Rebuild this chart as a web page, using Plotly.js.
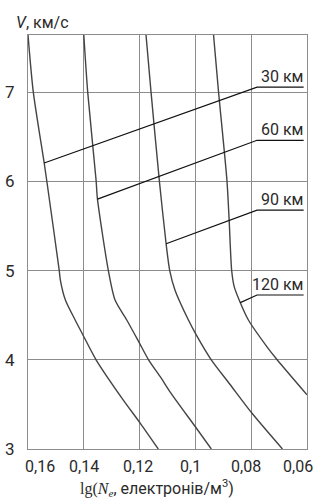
<!DOCTYPE html>
<html>
<head>
<meta charset="utf-8">
<script src="https://cdn.plot.ly/plotly-3.0.1.min.js"></script>
<style>html,body{margin:0;padding:0;background:#fff;}#chart{width:322px;height:501px;}</style>
</head>
<body>
<div id="chart"></div>
<script>
// ---- data ----
const xTickVals = [0.16, 0.14, 0.12, 0.10, 0.08, 0.06];
const xTickText = ['0,16', '0,14', '0,12', '0,1', '0,08', '0,06'];
const yTickVals = [3, 4, 5, 6, 7];
const yTickText = ['3', '4', '5', '6', '7'];

const c30x = [0.16, 0.1581, 0.1542, 0.1533, 0.1488, 0.1484, 0.1466, 0.1431, 0.1403, 0.1356, 0.1259, 0.1198, 0.1133];
const c30y = [7.64, 7.0, 6.206, 6.012, 5.0, 4.894, 4.67, 4.446, 4.278, 4.0, 3.551, 3.291, 3.0];

const c60x = [0.14, 0.1386, 0.1356, 0.1351, 0.1312, 0.1288, 0.1246, 0.1201, 0.1168, 0.1126, 0.1091, 0.0997, 0.0943];
const c60y = [7.64, 7.0, 6.012, 5.80, 5.0, 4.67, 4.446, 4.19, 4.0, 3.81, 3.64, 3.235, 3.0];

const c90x = [0.1177, 0.1159, 0.1129, 0.1105, 0.1092, 0.1073, 0.1025, 0.0997, 0.0943, 0.0875, 0.0797, 0.0688];
const c90y = [7.64, 7.0, 6.0, 5.30, 5.0, 4.78, 4.446, 4.28, 4.0, 3.72, 3.40, 3.0];

const c120x = [0.0935, 0.0917, 0.0887, 0.0879, 0.0870, 0.0861, 0.0839, 0.0810, 0.0744, 0.0707, 0.0600];
const c120y = [7.64, 7.0, 6.012, 5.565, 5.0, 4.82, 4.64, 4.446, 4.148, 4.0, 3.607];

const labels = ['30 км', '60 км', '90 км', '120 км'];
const leaderStartX = [0.1542, 0.1351, 0.1105, 0.0839];
const leaderStartY = [6.206, 5.80, 5.30, 4.64];
const leaderElbowX = [0.0779, 0.0779, 0.0779, 0.0779];
const leaderEndX = [0.0612, 0.0612, 0.0612, 0.0612];
const labelY = [7.056, 6.46, 5.677, 4.726];

const xRange = [0.16, 0.06];
const yRange = [3, 7.64];

// ---- styling ----
const FONT = 'Roboto, "Liberation Sans", sans-serif';
const TXT = '#2a2a2a';
const GRID = '#8c8c8c';
const CURVE = '#444';

const curves = [[c30x, c30y], [c60x, c60y], [c90x, c90y], [c120x, c120y]];
const traces = curves.map(([x, y]) => ({
  x: x, y: y, type: 'scatter', mode: 'lines',
  line: {color: CURVE, width: 1.4, shape: 'spline', smoothing: 0.7},
  hoverinfo: 'skip', showlegend: false
}));

labels.forEach((lab, i) => {
  traces.push({
    x: [leaderStartX[i], leaderElbowX[i], leaderEndX[i]],
    y: [leaderStartY[i], labelY[i], labelY[i]],
    type: 'scatter', mode: 'lines',
    line: {color: '#111', width: 1.2},
    hoverinfo: 'skip', showlegend: false
  });
});

const annotations = labels.map((lab, i) => ({
  x: leaderEndX[i], y: labelY[i], xref: 'x', yref: 'y',
  text: lab, showarrow: false, xanchor: 'right', yanchor: 'bottom',
  xshift: 1, yshift: -1,
  font: {family: FONT, size: 16, color: TXT}
}));

const xShift = [12, 0, -2, -5, -5, -9];
xTickVals.forEach((v, i) => {
  annotations.push({
    x: v, y: 0, xref: 'x', yref: 'paper', text: xTickText[i], showarrow: false,
    xanchor: 'center', yanchor: 'top', xshift: xShift[i], yshift: -6,
    font: {family: FONT, size: 16, color: TXT}
  });
});

annotations.push({
  x: 0, y: 1, xref: 'paper', yref: 'paper', xanchor: 'left', yanchor: 'bottom',
  xshift: -14, yshift: 1, showarrow: false,
  text: '<i>V</i>, км/с',
  font: {family: FONT, size: 16, color: TXT}
});

annotations.push({
  x: 0.462, y: 0, xref: 'paper', yref: 'paper', xanchor: 'center', yanchor: 'top',
  yshift: -26, showarrow: false,
  text: '<span style="font-family:\'Liberation Serif\',serif">lg(<i>N</i><sub><i>e</i></sub></span>, електронів/м<sup>3</sup>)',
  font: {family: FONT, size: 16, color: TXT}
});

const layout = {
  width: 322, height: 501,
  margin: {l: 28, r: 15, t: 35, b: 52, pad: 0},
  paper_bgcolor: '#fff', plot_bgcolor: '#fff',
  showlegend: false,
  xaxis: {
    range: xRange, tickvals: xTickVals, showticklabels: false,
    showgrid: true, gridcolor: GRID, gridwidth: 1,
    showline: true, linecolor: GRID, linewidth: 1, mirror: true,
    zeroline: false, ticks: ''
  },
  yaxis: {
    range: yRange, tickvals: yTickVals, ticktext: yTickText,
    showgrid: true, gridcolor: GRID, gridwidth: 1,
    showline: true, linecolor: GRID, linewidth: 1, mirror: true,
    zeroline: false, ticks: '', ticklabelstandoff: 9,
    tickfont: {family: FONT, size: 17, color: TXT}
  },
  annotations: annotations
};

Plotly.newPlot('chart', traces, layout, {staticPlot: true, displayModeBar: false});
</script>
</body>
</html>
